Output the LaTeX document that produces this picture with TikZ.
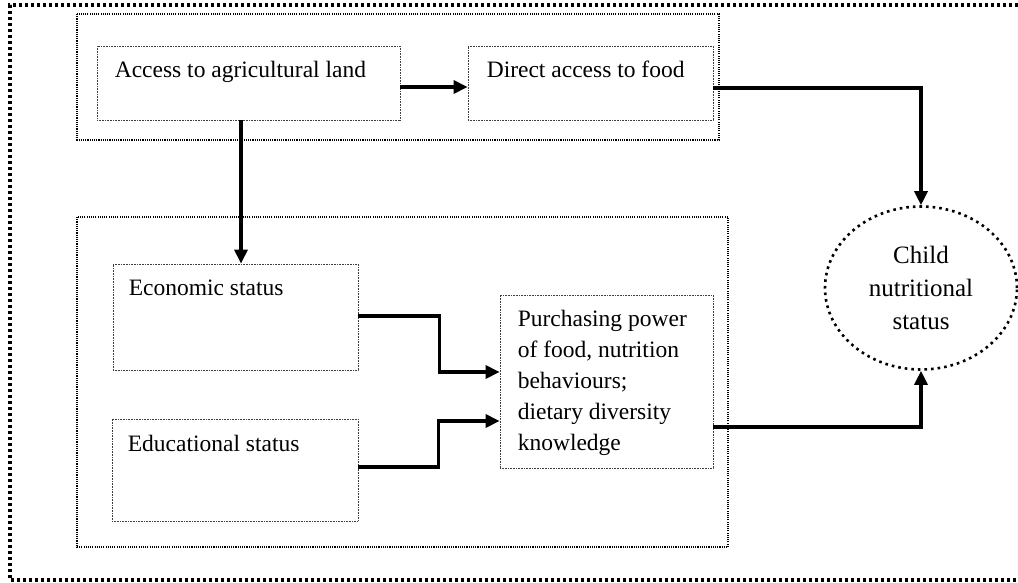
\documentclass[tikz,border=0pt]{standalone}
\usepackage{fontspec}
\setmainfont{Liberation Serif}
\usetikzlibrary{calc,arrows.meta,shapes.geometric}
\tikzset{
  boxshape/.style={draw=black!75, line width=0.8pt, dash pattern=on 0.8pt off 0.8pt, rectangle, inner sep=0pt},
  groupbox/.style={draw=black, line width=1.1pt, dash pattern=on 1.1pt off 1.1pt},
  outerframe/.style={draw=black, line width=3.2pt, dash pattern=on 3pt off 3pt},
  boxtext/.style={anchor=base west, inner sep=0pt, font=\fontsize{23.5}{31}\selectfont},
  conn/.style={line width=3.3pt, line cap=butt, line join=miter},
  arr/.style={conn, -{Triangle[length=14pt,width=13pt]}},
}
\begin{document}
\begin{tikzpicture}[x=1pt,y=-1pt]
\useasboundingbox (0,0) rectangle (1018,582);
% frames
\draw[outerframe] (1030,5) -- (10,5) -- (10,580) -- (1030,580);
\draw[groupbox] (77,14) rectangle (719,140);
\draw[groupbox] (77,217) rectangle (728,547);
% boxes
\node[boxshape, minimum width=303pt, minimum height=74pt] (access) at (248.5,83) {};
\node[boxshape, minimum width=245pt, minimum height=74pt] (direct) at (590.5,83) {};
\node[boxshape, minimum width=245pt, minimum height=106pt] (econ) at (235.5,317) {};
\node[boxshape, minimum width=246pt, minimum height=102pt] (educ) at (235,470) {};
\node[boxshape, minimum width=213pt, minimum height=173pt] (purch) at (606.5,381.5) {};
\node[ellipse, draw=black, line width=2.6pt, dash pattern=on 2.6pt off 4pt,
      minimum width=192pt, minimum height=163pt, inner sep=0pt, align=center,
      font=\fontsize{25}{33}\selectfont] (child) at (921,288) {Child\\nutritional\\status};
% texts
\node[boxtext] (accessT) at ($(access.north west)+(18,32)$) {Access to agricultural land};
\node[boxtext] (directT) at ($(direct.north west)+(19,32)$) {Direct access to food};
\node[boxtext] (econT) at ($(econ.north west)+(16,32)$) {Economic status};
\node[boxtext] (educT) at ($(educ.north west)+(16,33)$) {Educational status};
\node[anchor=north west, inner sep=0pt, align=left, font=\fontsize{23.5}{31}\selectfont]
  (purchT) at ($(purch.north west)+(18,15)$)
  {Purchasing power\\of food, nutrition\\behaviours;\\dietary diversity\\knowledge};
% connectors
\draw[arr] ($(access.east)+(0,4)$) -- ($(direct.west)+(0,4)$);
\draw[arr] ($(direct.east)+(0,5)$) -| (child.north);
\draw[arr] ($(access.south)+(-7.5,0)$) -- ($(econ.north)+(5.5,0)$);
\draw[arr] ($(econ.east)+(0,-1)$) -- ++(81,0) |- ($(purch.west)+(0,-9.5)$);
\draw[arr] ($(educ.east)+(0,-3)$) -- ++(80,0) |- ($(purch.west)+(0,39.5)$);
\draw[arr] ($(purch.east)+(0,45.5)$) -| (child.south);
\end{tikzpicture}
\end{document}
